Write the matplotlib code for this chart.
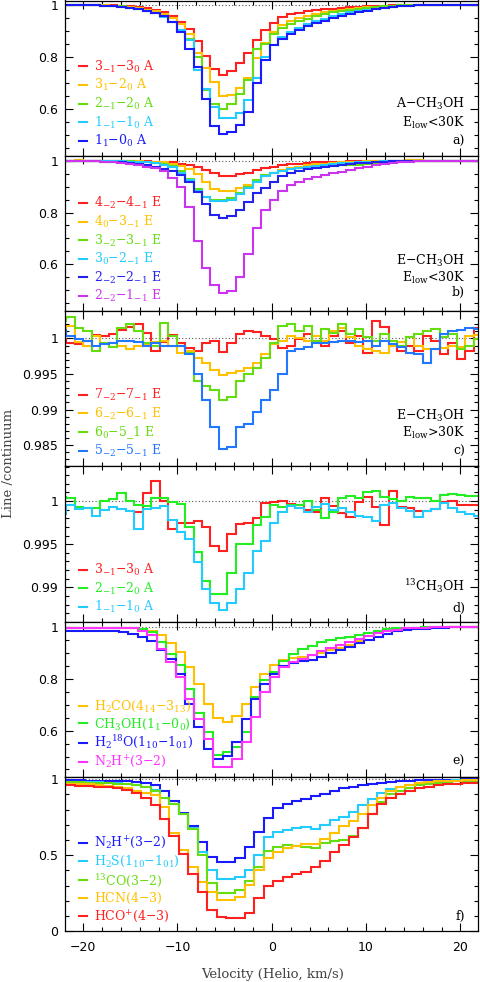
import numpy as np
import matplotlib
matplotlib.use('Agg')
import matplotlib.pyplot as plt
from matplotlib.ticker import MultipleLocator, FuncFormatter

plt.rcParams['font.family'] = ['DejaVu Serif']
plt.rcParams['mathtext.fontset'] = 'dejavuserif'

# ---------------- velocity channel grids (start edge, width, count) ----------------
ad_v0, ad_dv, ad_n = -22.7, 0.9, 50
e_v0, e_dv, e_n = -22.2, 1.0, 45
f_v0, f_dv, f_n = -22.85, 1.0, 46
d_red_first = 9

# ---------------- panel a : A-CH3OH, Elow < 30 K ----------------
a_labels = [r'$\mathregular{3_{-1}{-}3_0}$ A', r'$\mathregular{3_1{-}2_0}$ A',
            r'$\mathregular{2_{-1}{-}2_0}$ A', r'$\mathregular{1_{-1}{-}1_0}$ A',
            r'$\mathregular{1_1{-}0_0}$ A']
a_red = [1.0,1.0,1.0,1.0,0.999,0.999,0.998,0.997,0.995,0.992,
         0.988,0.982,0.972,0.958,0.936,0.906,0.863,0.804,0.753,0.731,
         0.744,0.776,0.817,0.865,0.904,0.932,0.955,0.965,0.970,0.975,
         0.979,0.983,0.986,0.989,0.991,0.993,0.995,0.996,0.997,0.998,
         0.999,0.999,1.0,1.0,1.0,1.0,1.0,1.0,1.0,1.0]
a_orange = [1.0,1.0,1.0,0.999,0.999,0.998,0.997,0.995,0.992,0.988,
            0.982,0.975,0.965,0.950,0.925,0.890,0.814,0.756,0.705,0.650,
            0.654,0.679,0.718,0.795,0.853,0.897,0.923,0.940,0.950,0.958,
            0.965,0.971,0.976,0.980,0.984,0.988,0.991,0.993,0.995,0.997,
            0.998,0.999,0.999,1.0,1.0,1.0,1.0,1.0,1.0,1.0]
a_green = [1.0,1.0,1.0,0.999,0.998,0.997,0.996,0.994,0.990,0.985,
           0.978,0.970,0.958,0.935,0.905,0.870,0.800,0.673,0.620,0.600,
           0.620,0.656,0.710,0.830,0.850,0.890,0.910,0.925,0.937,0.947,
           0.956,0.964,0.971,0.977,0.982,0.986,0.990,0.993,0.995,0.997,
           0.998,0.999,1.0,1.0,1.0,1.0,1.0,1.0,1.0,1.0]
a_cyan = [1.0,1.0,1.0,0.999,0.998,0.997,0.995,0.993,0.990,0.985,
          0.978,0.968,0.955,0.935,0.904,0.865,0.750,0.675,0.607,0.564,
          0.564,0.583,0.635,0.720,0.800,0.845,0.875,0.895,0.912,0.925,
          0.937,0.947,0.956,0.964,0.971,0.977,0.982,0.986,0.990,0.993,
          0.995,0.997,0.998,0.999,1.0,1.0,1.0,1.0,1.0,1.0]
a_blue = [1.0,1.0,1.0,0.999,0.998,0.997,0.995,0.993,0.990,0.985,
          0.978,0.970,0.958,0.935,0.895,0.830,0.760,0.640,0.535,0.504,
          0.510,0.540,0.590,0.700,0.790,0.845,0.870,0.890,0.905,0.918,
          0.930,0.940,0.950,0.958,0.965,0.972,0.978,0.983,0.987,0.991,
          0.994,0.996,0.998,0.999,1.0,1.0,1.0,1.0,1.0,1.0]

# ---------------- panel b : E-CH3OH, Elow < 30 K ----------------
b_labels = [r'$\mathregular{4_{-2}{-}4_{-1}}$ E', r'$\mathregular{4_0{-}3_{-1}}$ E',
            r'$\mathregular{3_{-2}{-}3_{-1}}$ E', r'$\mathregular{3_0{-}2_{-1}}$ E',
            r'$\mathregular{2_{-2}{-}2_{-1}}$ E', r'$\mathregular{2_{-2}{-}1_{-1}}$ E']
b_red = [1.0,1.0,1.0,1.0,1.0,1.0,0.999,0.999,0.999,0.998,
         0.998,0.997,0.996,0.994,0.990,0.985,0.976,0.966,0.955,0.943,
         0.943,0.948,0.955,0.963,0.972,0.978,0.984,0.988,0.990,0.992,
         0.994,0.995,0.996,0.997,0.998,0.998,0.999,0.999,1.0,1.0,
         1.0,1.0,1.0,1.0,1.0,1.0,1.0,1.0,1.0,1.0]
b_orange = [1.0,1.0,1.002,1.0,1.0,0.999,0.999,0.999,0.998,0.998,
            0.997,0.996,0.994,0.990,0.982,0.970,0.950,0.920,0.890,0.882,
            0.885,0.895,0.908,0.925,0.945,0.955,0.965,0.972,0.978,0.983,
            0.987,0.990,0.992,0.994,0.996,0.997,0.998,0.999,0.999,1.0,
            1.0,1.002,1.002,1.0,1.0,1.0,1.0,1.0,1.0,1.0]
b_green = [1.0,1.0,1.0,1.0,0.999,0.999,0.999,0.998,0.998,0.997,
           0.996,0.993,0.988,0.980,0.960,0.930,0.890,0.862,0.850,0.850,
           0.858,0.875,0.900,0.925,0.945,0.955,0.962,0.968,0.974,0.978,
           0.982,0.985,0.987,0.986,0.985,0.985,0.988,0.992,0.995,0.998,
           1.0,1.0,1.0,1.0,1.0,1.0,1.0,1.0,1.0,1.0]
b_cyan = [1.0,1.0,1.0,1.0,0.999,0.999,0.999,0.998,0.997,0.996,
          0.994,0.991,0.986,0.976,0.955,0.925,0.885,0.860,0.845,0.844,
          0.850,0.870,0.895,0.920,0.940,0.952,0.960,0.967,0.973,0.978,
          0.982,0.986,0.989,0.991,0.993,0.995,0.996,0.997,0.998,0.999,
          1.0,1.0,1.0,1.0,1.0,1.0,1.0,1.0,1.0,1.0]
b_blue = [1.0,1.0,1.0,0.999,0.998,0.997,0.996,0.995,0.993,0.990,
          0.985,0.978,0.970,0.960,0.945,0.920,0.880,0.835,0.790,0.780,
          0.785,0.810,0.840,0.875,0.895,0.920,0.940,0.952,0.960,0.967,
          0.972,0.977,0.981,0.985,0.988,0.991,0.993,0.995,0.997,0.998,
          0.999,1.0,1.0,1.0,1.0,1.0,1.0,1.0,1.0,1.0]
b_magenta = [1.0,1.0,0.999,0.999,0.998,0.997,0.995,0.992,0.988,0.983,
             0.978,0.972,0.960,0.935,0.900,0.820,0.690,0.585,0.520,0.487,
             0.497,0.550,0.640,0.740,0.810,0.850,0.885,0.905,0.920,0.931,
             0.938,0.946,0.953,0.959,0.965,0.972,0.978,0.985,0.988,0.992,
             0.995,0.997,0.998,0.999,1.0,1.0,1.0,1.0,1.0,1.0]

# ---------------- panel c : E-CH3OH, Elow > 30 K ----------------
c_labels = [r'$\mathregular{7_{-2}{-}7_{-1}}$ E', r'$\mathregular{6_{-2}{-}6_{-1}}$ E',
            r'$\mathregular{6_0{-}5}$_1 E', r'$\mathregular{5_{-2}{-}5_{-1}}$ E']
c_red = [0.9999,0.9993,0.9992,0.9997,1.0005,1.0004,1.0006,1.0012,1.0016,1.0020,
         1.0008,0.9983,0.9995,1.0005,0.9994,0.9986,0.9982,0.9994,0.9997,0.9981,
         0.9994,1.0006,1.0011,1.0009,1.0004,0.9999,0.9986,0.9990,0.9999,1.0006,
         0.9997,0.9990,1.0004,1.0010,0.9994,1.0004,0.9980,1.0024,1.0016,0.9990,
         0.9983,0.9990,0.9983,1.0004,0.9997,0.9978,0.9994,0.9971,0.9983,1.0015]
c_orange = [1.0006,1.0018,0.9995,0.9990,1.0004,0.9994,0.9994,0.9990,0.9985,0.9990,
            0.9992,0.9995,0.9997,0.9990,0.9980,0.9982,0.9972,0.9965,0.9956,0.9949,
            0.9951,0.9954,0.9958,0.9966,0.9978,0.9992,0.9996,1.0004,1.0000,0.9996,
            1.0003,0.9997,1.0010,1.0014,1.0002,0.9990,0.9985,0.9983,0.9980,0.9990,
            0.9995,1.0002,0.9990,0.9985,0.9985,0.9987,0.9990,0.9988,1.0004,1.0005]
c_green = [1.0025,1.0030,1.0015,1.0010,0.9982,0.9993,0.9988,1.0015,1.0020,1.0010,
           0.9994,0.9990,1.0022,1.0004,0.9990,0.9980,0.9940,0.9933,0.9928,0.9914,
           0.9917,0.9940,0.9950,0.9959,0.9973,0.9994,1.0018,1.0020,1.0010,1.0018,
           0.9997,1.0013,1.0008,1.0020,1.0006,1.0013,1.0002,0.9997,1.0006,0.9997,
           0.9990,1.0002,1.0006,1.0011,1.0013,1.0002,1.0006,0.9985,0.9990,0.9999]
c_blue = [1.0012,1.0004,0.9999,0.9997,0.9990,0.9992,0.9993,0.9997,0.9997,0.9995,
          0.9990,0.9994,0.9990,0.9990,0.9989,0.9978,0.9950,0.9914,0.9876,0.9845,
          0.9847,0.9876,0.9880,0.9897,0.9914,0.9928,0.9950,0.9982,0.9985,0.9988,
          0.9994,0.9993,0.9995,0.9996,0.9997,0.9995,0.9997,0.9990,0.9996,0.9992,
          0.9988,0.9980,0.9978,0.9966,0.9985,1.0006,1.0010,1.0012,1.0014,1.0013]

# ---------------- panel d : 13CH3OH ----------------
d_labels = [r'$\mathregular{3_{-1}{-}3_0}$ A', r'$\mathregular{2_{-1}{-}2_0}$ A',
            r'$\mathregular{1_{-1}{-}1_0}$ A']
d_red = [0.9987,1.0009,1.0023,1.0000,0.9968,0.9975,0.9974,0.9977,0.9970,0.9948,
         0.9942,0.9962,0.9973,0.9975,0.9980,0.9998,0.9999,1.0000,0.9997,0.9995,
         0.9990,0.9987,1.0004,0.9994,0.9986,0.9981,0.9999,1.0005,0.9993,0.9972,
         1.0012,0.9993,0.9992,0.9989,0.9989,0.9991,0.9999,1.0000,0.9995,0.9995,
         0.9995]
d_green = [1.0005,1.0004,0.9993,0.9992,0.9992,1.0000,1.0002,1.0009,1.0000,0.9996,
           0.9994,1.0004,1.0003,0.9999,0.9997,0.9970,0.9941,0.9907,0.9892,0.9892,
           0.9917,0.9950,0.9950,0.9972,0.9981,0.9995,0.9993,0.9995,0.9996,1.0000,
           0.9990,0.9980,0.9987,1.0004,1.0006,1.0003,1.0010,1.0012,1.0005,1.0002,
           1.0000,1.0005,1.0003,1.0003,1.0000,1.0007,1.0008,1.0007,1.0006,1.0006]
d_cyan = [0.9985,0.9995,0.9991,0.9992,0.9983,0.9990,0.9993,0.9991,0.9988,0.9968,
          0.9991,0.9992,0.9994,0.9978,0.9964,0.9956,0.9929,0.9898,0.9882,0.9874,
          0.9882,0.9898,0.9917,0.9942,0.9954,0.9974,0.9987,0.9994,0.9992,0.9987,
          0.9993,0.9997,0.9990,0.9992,0.9987,0.9983,0.9981,0.9977,0.9996,0.9998,
          0.9992,0.9989,0.9981,0.9989,0.9991,0.9998,0.9992,0.9987,0.9985,0.9983]

# ---------------- panel e ----------------
e_labels = [r'$\mathregular{H_2CO(4_{14}{-}3_{13})}$', r'$\mathregular{CH_3OH(1_1{-}0_0)}$',
            r'$\mathregular{H_2{}^{18}O(1_{10}{-}1_{01})}$', r'$\mathregular{N_2H^{+}(3{-}2)}$']
e_orange = [0.998,0.998,0.998,0.997,0.997,0.996,0.996,0.995,0.993,0.985,
            0.968,0.940,0.903,0.845,0.780,0.703,0.650,0.632,0.658,0.703,
            0.768,0.820,0.854,0.872,0.880,0.886,0.893,0.900,0.910,0.920,
            0.932,0.948,0.965,0.978,0.988,0.993,0.996,0.997,0.998,0.999,
            1.0,1.0,1.0,1.0,1.0]
e_green = [0.998,0.998,0.998,0.997,0.997,0.997,0.997,0.996,0.992,0.980,
           0.942,0.897,0.852,0.762,0.670,0.594,0.506,0.516,0.536,0.594,
           0.729,0.794,0.826,0.871,0.897,0.916,0.928,0.941,0.950,0.957,
           0.963,0.970,0.977,0.986,0.992,0.996,0.997,0.998,0.999,1.0,
           1.0,1.0,1.0,1.0,1.0]
e_blue = [0.987,0.987,0.986,0.985,0.985,0.984,0.983,0.975,0.961,0.948,
          0.910,0.877,0.820,0.703,0.613,0.529,0.490,0.503,0.555,0.645,
          0.723,0.780,0.820,0.850,0.862,0.868,0.875,0.885,0.900,0.913,
          0.925,0.937,0.950,0.962,0.975,0.985,0.990,0.992,0.994,0.996,
          0.998,0.999,1.0,1.0,1.0]
e_magenta = [0.998,0.998,0.998,0.997,0.997,0.997,0.996,0.996,0.985,0.968,
             0.916,0.865,0.807,0.723,0.645,0.568,0.458,0.458,0.490,0.555,
             0.652,0.749,0.807,0.845,0.865,0.878,0.893,0.908,0.920,0.930,
             0.943,0.955,0.966,0.976,0.985,0.991,0.995,0.997,0.998,0.999,
             1.0,1.0,1.0,1.0,1.0]

# ---------------- panel f ----------------
f_labels = [r'$\mathregular{N_2H^{+}(3{-}2)}$', r'$\mathregular{H_2S(1_{10}{-}1_{01})}$',
            r'$\mathregular{{}^{13}CO(3{-}2)}$', r'$\mathregular{HCN(4{-}3)}$',
            r'$\mathregular{HCO^{+}(4{-}3)}$']
f_blue = [0.993,0.993,0.993,0.992,0.992,0.991,0.990,0.988,0.984,0.978,
          0.965,0.920,0.860,0.776,0.690,0.590,0.490,0.454,0.454,0.480,
          0.556,0.655,0.743,0.809,0.835,0.857,0.872,0.890,0.905,0.925,
          0.940,0.952,0.962,0.970,0.976,0.982,0.986,0.990,0.993,0.995,
          0.996,0.997,0.998,0.999,0.999,0.999]
f_cyan = [0.985,0.984,0.983,0.982,0.980,0.978,0.975,0.970,0.962,0.950,
          0.930,0.875,0.840,0.770,0.680,0.524,0.403,0.344,0.344,0.360,
          0.403,0.500,0.620,0.650,0.665,0.680,0.685,0.670,0.700,0.730,
          0.755,0.787,0.830,0.870,0.910,0.935,0.952,0.965,0.975,0.982,
          0.987,0.990,0.993,0.995,0.996,0.997]
f_green = [0.980,0.980,0.979,0.978,0.977,0.975,0.972,0.968,0.960,0.950,
           0.920,0.875,0.840,0.770,0.670,0.500,0.320,0.250,0.250,0.270,
           0.330,0.425,0.530,0.556,0.567,0.563,0.556,0.550,0.580,0.595,
           0.600,0.625,0.680,0.770,0.850,0.900,0.925,0.945,0.960,0.970,
           0.978,0.983,0.987,0.990,0.992,0.994]
f_orange = [0.975,0.972,0.970,0.967,0.963,0.958,0.950,0.940,0.925,0.910,
            0.897,0.820,0.645,0.535,0.425,0.327,0.260,0.206,0.206,0.228,
            0.305,0.400,0.480,0.523,0.546,0.563,0.572,0.575,0.610,0.645,
            0.690,0.725,0.770,0.830,0.880,0.925,0.950,0.965,0.975,0.982,
            0.987,0.990,0.992,0.994,0.995,0.996]
f_red = [0.962,0.960,0.958,0.955,0.951,0.946,0.940,0.930,0.910,0.880,
         0.830,0.740,0.630,0.510,0.380,0.260,0.140,0.095,0.090,0.090,
         0.120,0.220,0.300,0.330,0.355,0.375,0.390,0.425,0.460,0.520,
         0.565,0.620,0.680,0.770,0.840,0.880,0.905,0.925,0.940,0.952,
         0.962,0.968,0.972,0.976,0.978,0.980]

# ---------------- colours ----------------
RED, ORANGE, YGREEN, GREEN = '#ff2020', '#ffc000', '#66dd11', '#22ee22'
CYAN, BLUE, LBLUE = '#22ccff', '#1a1aff', '#2277ff'
PURPLE, MAGENTA = '#cc33ee', '#ff33ff'

edges_ad = ad_v0 + ad_dv * np.arange(ad_n + 1)
edges_e = e_v0 + e_dv * np.arange(e_n + 1)
edges_f = f_v0 + f_dv * np.arange(f_n + 1)

panels = [
    dict(series=[(a_red, edges_ad), (a_orange, edges_ad), (a_green, edges_ad),
                 (a_cyan, edges_ad), (a_blue, edges_ad)],
         colors=[RED, ORANGE, YGREEN, CYAN, BLUE], labels=a_labels,
         ylim=(0.421, 1.017), major=0.2, minor=0.05,
         notes=[(r'A$-$CH$_3$OH', 0.33), (r'E$_{\rm low}$<30K', 0.21), ('a)', 0.09)]),
    dict(series=[(b_red, edges_ad), (b_orange, edges_ad), (b_green, edges_ad),
                 (b_cyan, edges_ad), (b_blue, edges_ad), (b_magenta, edges_ad)],
         colors=[RED, ORANGE, YGREEN, CYAN, '#2222ee', PURPLE], labels=b_labels,
         ylim=(0.420, 1.021), major=0.2, minor=0.05,
         notes=[(r'E$-$CH$_3$OH', 0.32), (r'E$_{\rm low}$<30K', 0.21), ('b)', 0.12)]),
    dict(series=[(c_red, edges_ad), (c_orange, edges_ad), (c_green, edges_ad),
                 (c_blue, edges_ad)],
         colors=[RED, ORANGE, YGREEN, LBLUE], labels=c_labels,
         ylim=(0.9821, 1.0039), major=0.005, minor=0.001,
         notes=[(r'E$-$CH$_3$OH', 0.32), (r'E$_{\rm low}$>30K', 0.21), ('c)', 0.09)]),
    dict(series=[(d_red, edges_ad[d_red_first:]), (d_green, edges_ad), (d_cyan, edges_ad)],
         colors=[RED, GREEN, CYAN], labels=d_labels,
         ylim=(0.98604, 1.0041), major=0.005, minor=0.001,
         notes=[(r'$^{13}$CH$_3$OH', 0.23), ('d)', 0.086)]),
    dict(series=[(e_orange, edges_e), (e_green, edges_e), (e_blue, edges_e),
                 (e_magenta, edges_e)],
         colors=[ORANGE, GREEN, BLUE, MAGENTA], labels=e_labels,
         ylim=(0.422, 1.022), major=0.2, minor=0.05,
         notes=[('e)', 0.097)]),
    dict(series=[(f_blue, edges_f), (f_cyan, edges_f), (f_green, edges_f),
                 (f_orange, edges_f), (f_red, edges_f)],
         colors=[BLUE, CYAN, YGREEN, ORANGE, RED], labels=f_labels,
         ylim=(0.0, 1.017), major=0.5, minor=0.1,
         notes=[('f)', 0.094)]),
]

H = 982.0
bounds = [(0.5, 155.5), (155.5, 310.7), (310.7, 465.7), (465.7, 621.5),
          (621.5, 776.7), (776.7, 931.3)]
x_left, x_right = 65 / 480, 478.3 / 480

fig = plt.figure(figsize=(4.8, 9.82), dpi=100)


def fmt(v, pos):
    s = f'{v:g}'
    return s.replace('-', '\u2212')


for i, (p, (top, bot)) in enumerate(zip(panels, bounds)):
    ax = fig.add_axes([x_left, 1 - bot / H, x_right - x_left, (bot - top) / H])
    ax.axhline(1.0, color='#555555', lw=0.8, ls=(0, (1, 2)), zorder=1)
    handles = []
    for (vals, edges), col, lab in zip(p['series'], p['colors'], p['labels']):
        h = ax.stairs(np.asarray(vals, dtype=float), edges, baseline=None,
                      color=col, lw=1.5, label=lab, zorder=2)
        handles.append(h)
    ax.set_xlim(-21.93, 21.9)
    ax.set_ylim(*p['ylim'])
    ax.xaxis.set_major_locator(MultipleLocator(10))
    ax.xaxis.set_minor_locator(MultipleLocator(2))
    ax.yaxis.set_major_locator(MultipleLocator(p['major']))
    ax.yaxis.set_minor_locator(MultipleLocator(p['minor']))
    ax.yaxis.set_major_formatter(FuncFormatter(fmt))
    ax.xaxis.set_major_formatter(FuncFormatter(fmt))
    ax.tick_params(which='both', direction='in', top=True, right=True,
                   width=0.8, colors='black', labelsize=9,
                   labelfontfamily='DejaVu Sans')
    ax.tick_params(which='major', length=6, pad=5)
    ax.tick_params(which='minor', length=3)
    ax.tick_params(axis='x', labelbottom=(i == len(panels) - 1), pad=7)
    for sp in ax.spines.values():
        sp.set_linewidth(0.9)
        sp.set_color('black')
    leg = ax.legend(handles=handles, loc='lower left', bbox_to_anchor=(0.034, 0.04),
                    frameon=False, fontsize=9, handlelength=0.65, handletextpad=0.55,
                    labelspacing=0.2, borderpad=0.0, borderaxespad=0.0)
    for txt, col in zip(leg.get_texts(), p['colors']):
        txt.set_color(col)
    for text, yf in p['notes']:
        ax.text(0.968, yf, text, transform=ax.transAxes, ha='right', va='center',
                fontsize=9, color='black')

fig.text(0.017, 0.528, 'Line /continuum', rotation=90, ha='center', va='center',
         fontsize=9.5, color='#444444')
fig.text(0.567, 0.0075, 'Velocity (Helio, km/s)', ha='center', va='center',
         fontsize=9.5, color='#444444')

fig.savefig('out.png', dpi=100)
